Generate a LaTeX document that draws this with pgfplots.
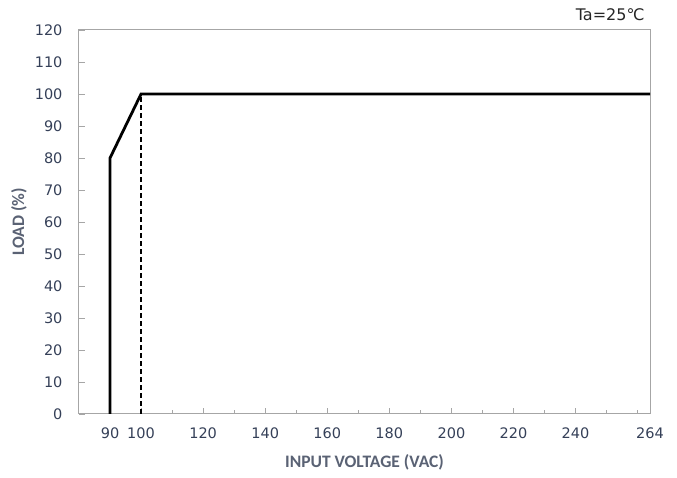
\documentclass[border=0pt]{standalone}
\usepackage{fontspec}
\setmainfont{DejaVu Sans}
\newfontfamily\labelfont{Carlito}
\usepackage{pgfplots}
\pgfplotsset{compat=1.18}
\definecolor{tickcol}{HTML}{354058}
\definecolor{labcol}{HTML}{5A6274}
\definecolor{axcol}{HTML}{A6A6A6}
\begin{document}
\begin{tikzpicture}
\path[use as bounding box] (-79pt,-64pt) rectangle (598pt,414pt);
\begin{axis}[
  scale only axis,
  width=571pt, height=384pt,
  xmin=80, xmax=264, ymin=0, ymax=120,
  xtick={90,100,120,140,160,180,200,220,240,264},
  minor xtick={110,130,150,170,190,210,230,250,260},
  ytick={0,10,...,120},
  tick align=inside,
  xtick pos=bottom, ytick pos=left,
  major tick length=6pt, minor tick length=4pt,
  every tick/.style={axcol, line width=0.8pt},
  axis line style={axcol, line width=1pt},
  tick label style={font=\fontsize{14.5}{16}\selectfont, text=tickcol},
  /pgf/number format/assume math mode=true,
  xticklabel style={yshift=-10pt},
  yticklabel style={xshift=-13pt},
  xlabel={\labelfont\bfseries INPUT VOLTAGE (VAC)},
  ylabel={\labelfont\bfseries LOAD (\%)},
  label style={font=\fontsize{17.5}{19}\selectfont, text=labcol},
  xlabel style={at={([yshift=-48pt]axis description cs:0.5,0)}, anchor=center},
  ylabel style={at={([xshift=-60pt]axis description cs:0,0.5)}, anchor=center},
  clip=false,
]
\addplot[black, line width=2.8pt, line join=miter] coordinates {(90,0) (90,80) (100,100) (264,100)};
\addplot[black, line width=1.2pt, dash pattern=on 5pt off 3pt] coordinates {(100,0) (100,100)};
\node[anchor=base east, font=\fontsize{16}{17}\selectfont, text=black!85] at ([xshift=-2pt,yshift=9pt]axis description cs:1,1) {Ta=25℃};
\end{axis}
\end{tikzpicture}
\end{document}
